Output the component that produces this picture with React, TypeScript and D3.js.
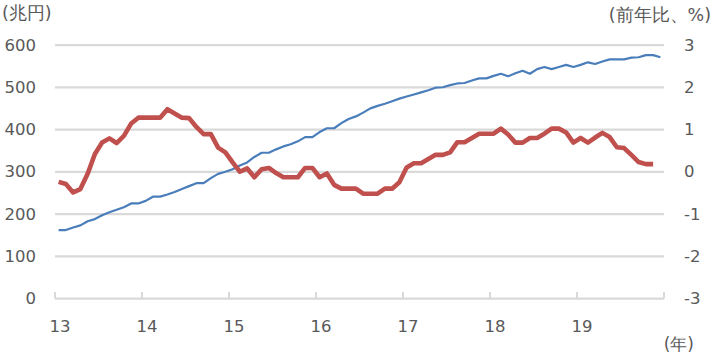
import React from "react";
import * as d3 from "d3";

// Monthly data, Jan 2013 – Dec 2019
const blueValues: number[] = [
  162, 162, 168, 173, 183, 188, 197, 204, 210, 216, 225, 225,
  231, 241, 241, 246, 252, 259, 266, 273, 273, 285, 295, 300,
  306, 315, 322, 335, 345, 345, 353, 360, 365, 372, 382, 382,
  394, 403, 403, 415, 425, 431, 440, 450, 456, 461, 467, 473,
  478, 483, 488, 493, 499, 500, 505, 509, 510, 516, 521, 521,
  527, 532, 526, 533, 539, 532, 543, 548, 543, 548, 553, 548,
  553, 559, 555, 561, 566, 566, 566, 570, 571, 576, 576, 571,
];
// Year-on-year %, Jan 2013 – Nov 2019
const redValues: number[] = [
  -0.24, -0.29, -0.49, -0.41, -0.05, 0.42, 0.69, 0.79, 0.68, 0.85, 1.14, 1.28,
  1.28, 1.28, 1.28, 1.48, 1.38, 1.28, 1.27, 1.06, 0.89, 0.89, 0.57, 0.46,
  0.22, 0.0, 0.08, -0.13, 0.06, 0.09, -0.03, -0.13, -0.13, -0.13, 0.09, 0.09,
  -0.13, -0.04, -0.31, -0.4, -0.4, -0.4, -0.52, -0.52, -0.52, -0.4, -0.4, -0.25,
  0.1, 0.2, 0.2, 0.3, 0.4, 0.4, 0.46, 0.7, 0.7, 0.8, 0.9, 0.9,
  0.9, 1.02, 0.88, 0.69, 0.69, 0.8, 0.8, 0.9, 1.02, 1.02, 0.93, 0.69,
  0.8, 0.69, 0.81, 0.92, 0.82, 0.58, 0.56, 0.4, 0.23, 0.18, 0.18,
];
const yearLabels: string[] = ["13", "14", "15", "16", "17", "18", "19"];
const leftTicks: number[] = [0, 100, 200, 300, 400, 500, 600];
const rightTicks: number[] = [-3, -2, -1, 0, 1, 2, 3];

const W = 712;
const H = 355;
const plotLeft = 55;
const plotRight = 664;
const plotTop = 45;
const plotBottom = 298.5;
const FONT = "'DejaVu Sans', Verdana, sans-serif";
const TEXT = "#595959";
const GRID = "#d9d9d9";

export default function App() {
  const x = d3.scaleLinear().domain([0, 84]).range([plotLeft, plotRight]);
  const yL = d3.scaleLinear().domain([0, 600]).range([plotBottom, plotTop]);
  const yR = d3.scaleLinear().domain([-3, 3]).range([plotBottom, plotTop]);

  const blueLine = d3
    .line<number>()
    .x((_, i) => x(i + 0.5))
    .y((d) => yL(d))(blueValues) as string;
  const redLine = d3
    .line<number>()
    .x((_, i) => x(i + 0.5))
    .y((d) => yR(d))(redValues) as string;

  const yearTicks = d3.range(0, 85, 12);

  return (
    <svg
      width={W}
      height={H}
      style={{ position: "absolute", left: 0, top: 0, background: "#fff" }}
      fontFamily={FONT}
    >
      {leftTicks.map((t) =>
        t === 0 ? null : (
          <line
            key={"g" + t}
            x1={plotLeft}
            x2={plotRight}
            y1={yL(t)}
            y2={yL(t)}
            stroke={GRID}
            strokeWidth={2.25}
          />
        )
      )}
      <line x1={plotLeft} x2={plotRight} y1={plotBottom} y2={plotBottom} stroke={GRID} strokeWidth={2.25} />
      {yearTicks.map((m) => (
        <line
          key={"t" + m}
          x1={x(m)}
          x2={x(m)}
          y1={plotBottom}
          y2={plotBottom - 6.5}
          stroke={GRID}
          strokeWidth={2}
        />
      ))}
      {leftTicks.map((t) => (
        <text
          key={"l" + t}
          x={36}
          y={yL(t)}
          textAnchor="end"
          dominantBaseline="central"
          fontSize={16.5}
          fill={TEXT}
        >
          {t}
        </text>
      ))}
      {rightTicks.map((t) => (
        <text
          key={"r" + t}
          x={684}
          y={yR(t)}
          textAnchor="start"
          dominantBaseline="central"
          fontSize={16.5}
          fill={TEXT}
        >
          {t}
        </text>
      ))}
      {yearLabels.map((lab, i) => (
        <text
          key={"x" + lab}
          x={x(i * 12) + 5}
          y={326}
          textAnchor="middle"
          dominantBaseline="central"
          fontSize={16.5}
          fill={TEXT}
        >
          {lab}
        </text>
      ))}
      <text x={2} y={13} fontSize={17.5} fill={TEXT} dominantBaseline="central">
        (兆円)
      </text>
      <text x={711} y={15} fontSize={17.5} fill={TEXT} textAnchor="end" dominantBaseline="central">
        (前年比、%)
      </text>
      <text x={694} y={344} fontSize={17} fill={TEXT} textAnchor="end" dominantBaseline="central">
        (年)
      </text>
      <path d={blueLine} fill="none" stroke="#4a7ebb" strokeWidth={2.2} strokeLinejoin="round" />
      <path d={redLine} fill="none" stroke="#c0504d" strokeWidth={4.6} strokeLinejoin="round" />
    </svg>
  );
}
